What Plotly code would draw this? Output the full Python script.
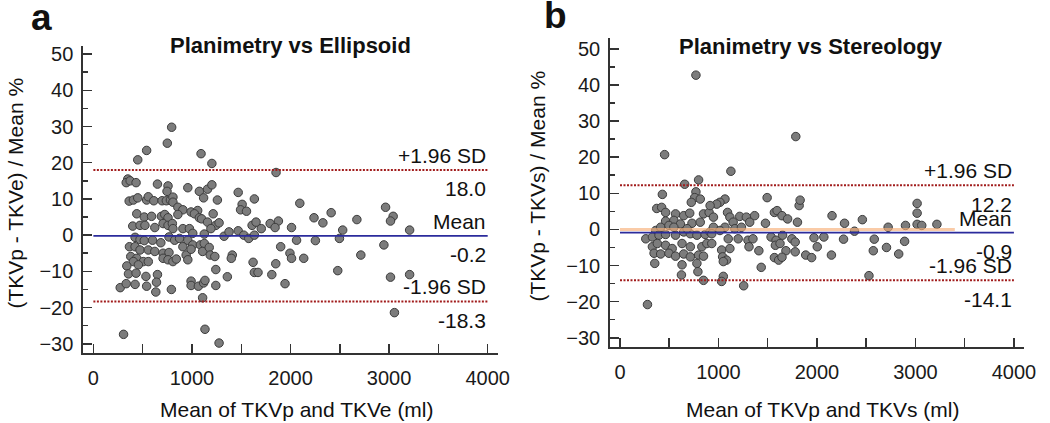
import plotly.graph_objects as go

# ---------------- data: panel a (Planimetry vs Ellipsoid) ----------------
a_mean_x = [794, 750, 540, 450, 349, 333, 373, 433, 650, 757, 747, 363, 406, 450, 540, 557, 613, 697, 740, 781,
            440, 516, 590, 690, 724, 757, 399, 473, 523, 623, 707, 757, 801, 423, 473, 516, 600, 684, 767, 366,
            423, 473, 557, 623, 707, 767, 379, 440, 406, 506, 557, 707, 757, 339, 456, 356, 433, 533, 650, 272,
            333, 423, 540, 640, 633, 791, 306,
            1092, 1202, 958, 1075, 1118, 1158, 1202, 1258, 1469, 1509, 1493, 1553, 1633, 807, 807, 857, 908, 857,
            991, 1058, 1025, 1075, 1098, 1215, 1158, 1242, 1275, 1192, 807, 908, 974, 1008, 1125, 1326, 1376, 1469,
            1526, 1576, 1610, 1633, 824, 874, 908, 958, 1008, 1085, 1125, 1108, 1175, 1185, 1232, 1409, 1399, 807,
            841, 941, 958, 991, 1242, 1359, 1620, 1633, 991, 991, 1065, 1118, 1132, 1242, 1108, 1132, 1275,
            1853, 2094, 2412, 2238, 2328, 2673, 2964, 3041, 3014, 3208, 2529, 2496, 2252, 2061, 2010, 1877, 1793,
            1843, 1650, 1703, 1900, 1994, 2010, 2134, 2947, 2713, 1850, 1810, 1944, 2479, 3014, 3208, 3054, 1670]
a_diff_pct = [29.8, 25.4, 23.4, 20.8, 15.5, 14.5, 15.0, 14.5, 14.1, 13.6, 12.1, 9.4, 9.7, 10.3, 9.7, 10.6, 9.5, 9.5, 9.5, 9.7,
              5.9, 5.0, 5.2, 5.2, 5.7, 4.8, 2.5, 2.7, 2.7, 2.1, 3.2, 2.7, 3.2, -0.6, -1.2, -1.5, -1.4, -2.1, -0.5, -3.2,
              -3.2, -4.1, -4.1, -4.5, -5.0, -4.8, -5.9, -6.4, -7.3, -7.3, -7.3, -6.4, -6.8, -8.5, -8.2, -10.7, -10.5, -11.4, -10.9, -14.5,
              -13.4, -13.6, -14.1, -13.0, -15.7, -15.0, -27.4,
              22.5, 19.8, 13.1, 12.1, 10.3, 12.7, 13.9, 9.7, 11.8, 8.5, 7.0, 6.6, 10.0, 10.5, 9.1, 7.7, 7.0, 5.7,
              6.4, 6.8, 5.9, 4.8, 4.5, 5.9, 3.6, 2.7, 3.4, 1.8, 1.8, 1.8, 1.8, 0.5, 0.3, -0.3, 0.9, 1.2,
              0.0, -0.9, 2.7, 0.0, -1.4, -0.9, -3.2, -1.4, -2.7, -2.7, -2.3, -4.5, -3.4, -5.5, -5.9, -5.5, -6.4, -7.3,
              -6.6, -5.5, -6.8, -3.9, -9.5, -11.5, -7.5, -10.3, -12.7, -13.9, -14.1, -13.2, -12.5, -13.9, -17.3, -26.0, -29.8,
              17.3, 8.8, 6.2, 4.8, 3.4, 4.3, 7.7, 5.2, 3.9, 1.4, 1.4, -0.9, -1.5, -1.4, 2.1, 3.9, 3.2,
              2.1, 3.6, 1.8, -3.2, -5.0, -6.4, -6.4, -2.7, -5.5, -7.9, -10.9, -13.4, -9.8, -11.6, -10.9, -21.4, -10.3]
a_stats = {"upper": 18.0, "mean": -0.2, "lower": -18.3}

# ---------------- data: panel b (Planimetry vs Stereology) ----------------
b_mean_x = [771, 453, 657, 798, 430, 771, 758, 815, 724, 373, 423, 463, 564, 463, 547, 647, 708, 848, 905, 363,
            413, 497, 614, 731, 815, 262, 329, 396, 463, 564, 647, 714, 781, 865, 915, 329, 379, 463, 530, 630,
            714, 831, 346, 413, 497, 564, 647, 714, 798, 848, 353, 630, 781, 624, 791, 848, 279, 547, 681,
            1785, 1126, 1066, 1015, 982, 915, 949, 1092, 1116, 1216, 1283, 1367, 1317, 1494, 1477, 1568, 1595, 1645,
            1702, 1802, 1819, 1829, 949, 1066, 1149, 1166, 1233, 932, 1015, 1099, 1200, 1300, 1350, 1534, 1585, 1651,
            1745, 1779, 882, 932, 1032, 1116, 1310, 1410, 1578, 1625, 1685, 1779, 1042, 1082, 1049, 1568, 1611, 1645,
            1434, 1049, 1032, 1256,
            2153, 2280, 2461, 2381, 2723, 2899, 3017, 3017, 3017, 3064, 3218, 1970, 2070, 2270, 2582, 2890, 1886,
            1946, 2003, 2147, 2572, 2706, 2830, 2528]
b_diff_pct = [42.7, 20.7, 12.5, 13.7, 9.7, 10.4, 8.8, 8.4, 7.5, 5.8, 6.1, 4.7, 4.3, 2.3, 2.5, 3.8, 4.5, 4.3, 4.7, -0.3,
              0.6, 1.1, 1.5, 1.7, 2.0, -2.6, -2.1, -1.6, -1.4, -1.6, -0.7, -1.2, -1.6, -1.4, -0.7, -4.8, -3.9, -4.4, -5.3, -3.9,
              -4.8, -4.8, -6.6, -6.8, -6.6, -7.4, -6.8, -7.6, -7.1, -7.4, -9.4, -9.8, -9.4, -12.6, -11.7, -14.1, -20.8, 0.6, 0.2,
              25.7, 16.1, 8.4, 7.5, 7.0, 6.6, 3.4, 4.7, 3.4, 3.6, 3.4, 3.8, 2.0, 8.8, 1.7, 4.7, 5.2, 3.8,
              2.9, 2.0, 6.6, 8.1, 0.6, 0.6, 2.0, 0.2, 0.6, -1.2, -0.3, -2.6, -2.6, -3.0, -2.6, -2.1, -3.0, -1.6,
              -2.6, -3.5, -3.9, -3.9, -5.7, -5.3, -4.8, -5.9, -4.4, -3.9, -5.9, -6.2, -7.6, -8.5, -8.9, -7.8, -8.5, -7.7,
              -10.5, -13.0, -14.4, -15.6,
              3.8, 1.7, 2.7, -0.5, 0.6, 1.1, 7.2, 4.5, 1.4, 1.1, 1.4, -2.3, -2.1, -2.7, -2.7, -3.3, -7.1,
              -7.8, -4.8, -7.1, -5.9, -5.0, -6.8, -12.8]
b_stats = {"upper": 12.2, "mean": -0.9, "lower": -14.1}
b_zero_line_x = [0, 3400]

line_x = [0, 4000]
x_ticks = [0, 1000, 2000, 3000, 4000]
y_ticks = [-30, -20, -10, 0, 10, 20, 30, 40, 50]

FONT = "Liberation Sans, Arial, sans-serif"
W, H = 1050, 423
DOT_RED = "#a11c1c"
BLUE = "#2b2b9c"

fig = go.Figure()

def add_panel(fig, xs, ys, stats, xa, ya, extra_zero=None):
    fig.add_trace(go.Scatter(x=xs, y=ys, mode="markers", xaxis=xa, yaxis=ya, showlegend=False,
                             marker=dict(size=8.5, color="#7c7c7c", line=dict(color="#3c3c3c", width=1))))
    if extra_zero is not None:
        fig.add_trace(go.Scatter(x=extra_zero, y=[0, 0], mode="lines", xaxis=xa, yaxis=ya, showlegend=False,
                                 line=dict(color="rgba(247,175,120,0.65)", width=3)))
    for key in ("upper", "lower"):
        fig.add_trace(go.Scatter(x=line_x, y=[stats[key]] * 2, mode="lines", xaxis=xa, yaxis=ya, showlegend=False,
                                 line=dict(color=DOT_RED, width=2, dash="2px,1.5px")))
    fig.add_trace(go.Scatter(x=line_x, y=[stats["mean"]] * 2, mode="lines", xaxis=xa, yaxis=ya, showlegend=False,
                             line=dict(color=BLUE, width=1.6)))

add_panel(fig, a_mean_x, a_diff_pct, a_stats, "x", "y")
add_panel(fig, b_mean_x, b_diff_pct, b_stats, "x2", "y2", extra_zero=b_zero_line_x)

axis_common = dict(showgrid=False, zeroline=False, showline=True, linecolor="#333", linewidth=2,
                   ticks="inside", tickcolor="#333", tickwidth=1.5, ticklen=9,
                   tickfont=dict(family=FONT, size=20, color="#1a1a1a"))

fig.update_layout(
    width=W, height=H, margin=dict(l=0, r=0, t=0, b=0),
    paper_bgcolor="white", plot_bgcolor="white", hovermode=False,
    xaxis=dict(axis_common, domain=[84.3 / W, 504 / W], range=[-102, 4107], tickvals=x_ticks,
               minor=dict(dtick=500, tick0=0, ticks="inside", ticklen=9, tickcolor="#333", tickwidth=1.5),
               anchor="y", ticklabelstandoff=6),
    yaxis=dict(axis_common, domain=[1 - 354 / H, 1 - 43.3 / H], range=[-32.5, 52.3], tickvals=y_ticks,
               minor=dict(dtick=5, tick0=0, ticks="inside", ticklen=5, tickcolor="#333", tickwidth=1.5),
               anchor="x", ticklabelstandoff=4),
    xaxis2=dict(axis_common, domain=[617.3 / W, 1036 / W], range=[-99, 4104], tickvals=x_ticks,
                minor=dict(dtick=500, tick0=0, ticks="inside", ticklen=9, tickcolor="#333", tickwidth=1.5),
                anchor="y2", ticklabelstandoff=6),
    yaxis2=dict(axis_common, domain=[1 - 348.3 / H, 1 - 35 / H], range=[-32.6, 53.1], tickvals=y_ticks,
                minor=dict(dtick=5, tick0=0, ticks="inside", ticklen=5, tickcolor="#333", tickwidth=1.5),
                anchor="x2", ticklabelstandoff=4),
)

ann = []
def paper_text(text, px, py, size, bold=False, angle=0):
    ann.append(dict(text=f"<b>{text}</b>" if bold else text, x=px / W, y=1 - py / H, xref="paper", yref="paper",
                    xanchor="center", yanchor="middle", showarrow=False, textangle=angle,
                    font=dict(family=FONT, size=size, color="#111")))

paper_text("a", 42, 15, 37, bold=True)
paper_text("b", 562, 13, 37, bold=True)
paper_text("Planimetry vs Ellipsoid", 294, 43, 22, bold=True)
paper_text("Planimetry vs Stereology", 820, 44, 22, bold=True)
paper_text("Mean of TKVp and TKVe (ml)", 300, 411, 21)
paper_text("Mean of TKVp and TKVs (ml)", 833, 411, 21)
paper_text("(TKVp - TKVe) / Mean %", 16, 192, 21, angle=-90)
paper_text("(TKVp - TKVs) / Mean %", 544, 185, 21, angle=-90)

def stat_labels(stats, xa, ya):
    items = [("+1.96 SD", stats["upper"], 14.5), (f"{stats['upper']:.1f}", stats["upper"], -19),
             ("Mean", stats["mean"], 14.5), (f"{stats['mean']:.1f}", stats["mean"], -19),
             ("-1.96 SD", stats["lower"], 14.5), (f"{stats['lower']:.1f}", stats["lower"], -19)]
    for text, yv, shift in items:
        ann.append(dict(text=text, x=line_x[1], y=yv, xref=xa, yref=ya, xanchor="right", yanchor="middle",
                        yshift=shift, showarrow=False, font=dict(family=FONT, size=21, color="#111")))

stat_labels(a_stats, "x", "y")
stat_labels(b_stats, "x2", "y2")
fig.update_layout(annotations=ann)

fig.write_html("out.html", config={"displayModeBar": False, "staticPlot": True},
               post_script="document.body.style.margin='0';document.body.style.overflow='hidden';")
